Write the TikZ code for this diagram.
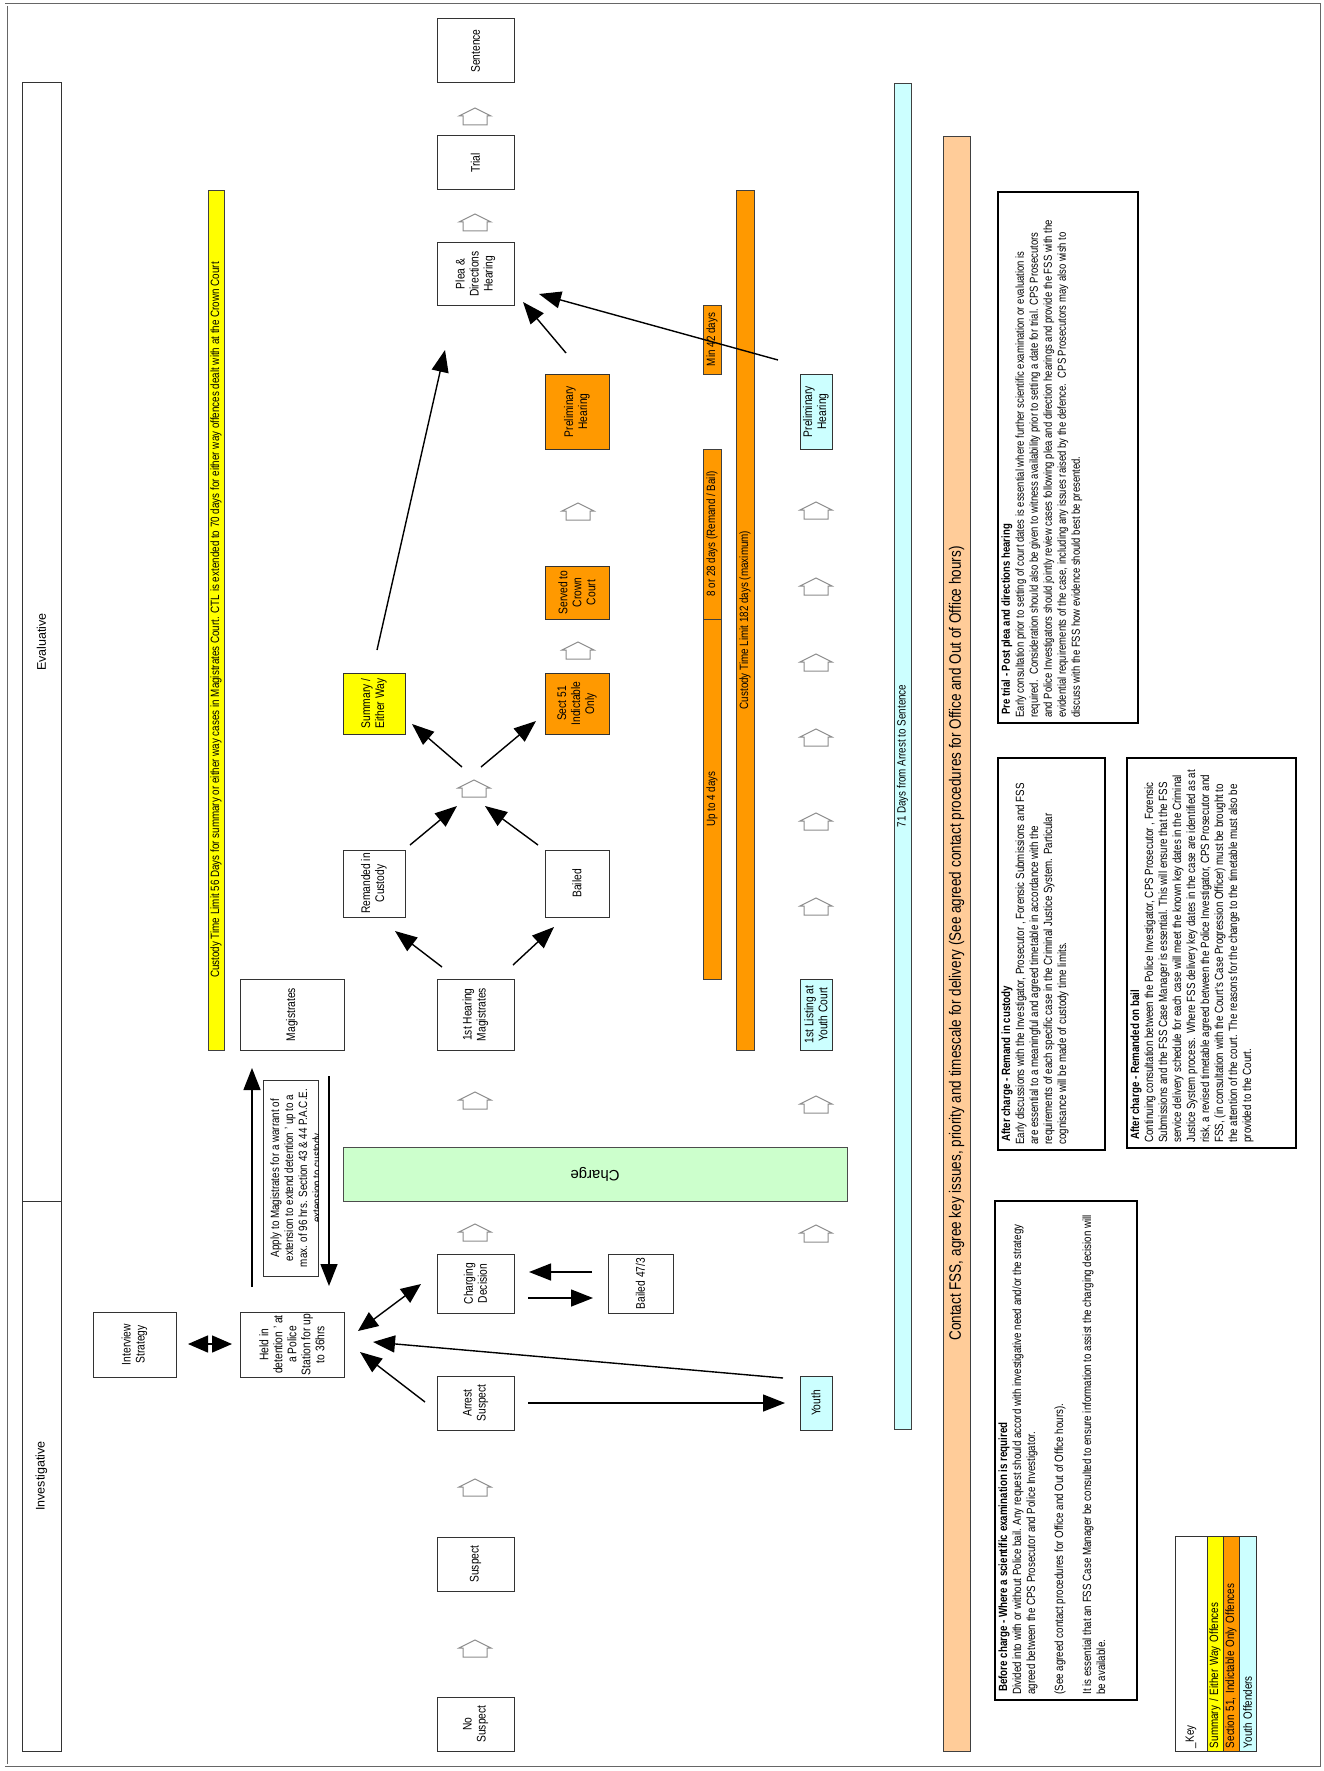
\documentclass[tikz,border=0pt]{standalone}
\usepackage{fontspec}
\setmainfont[FakeStretch=0.82]{Liberation Sans}
\newfontfamily\plainsans{Liberation Sans}
\usetikzlibrary{arrows.meta}
\definecolor{ctlyellow}{HTML}{FFFF00}
\definecolor{ctlorange}{HTML}{FF9900}
\definecolor{youthcyan}{HTML}{CCFFFF}
\definecolor{fsspeach}{HTML}{FFCC99}
\definecolor{chargegreen}{HTML}{CCFFCC}
\tikzset{
  stage/.style={draw=black!80, line width=1pt, rotate=90, align=center, inner sep=1pt, font=\fontsize{12.5}{14}\selectfont},
  bar/.style={draw=black!75, line width=0.8pt, rotate=90, inner sep=0pt, font=\fontsize{12}{12}\selectfont},
  notebox/.style={draw=black, line width=1.6pt, rotate=90},
  note/.style={rotate=90, anchor=north west, align=left, inner sep=0pt, font=\fontsize{11.9}{14}\selectfont},
  keystrip/.style={draw=black!80, line width=0.8pt, rotate=90, text width=209pt, inner xsep=3pt, inner ysep=0pt, align=left, minimum height=16pt, font=\fontsize{12}{12}\selectfont},
  flow/.style={line width=1.4pt, -{Triangle[length=22pt,width=17pt]}},
  twoway/.style={line width=1.4pt, {Triangle[length=20pt,width=17pt]}-{Triangle[length=20pt,width=17pt]}},
  house/.pic={\draw[black!45, line width=1pt] (-12,9) -- (-12,0) -- (-16,0) -- (0,-8) -- (16,0) -- (12,0) -- (12,9) -- cycle;}
}
\begin{document}
\begin{tikzpicture}[x=1pt,y=-1pt]
\useasboundingbox (0,0) rectangle (1324,1771);
\draw[black!60, line width=0.9pt, double=white, double distance=1.2pt] (6,5) rectangle (1319,1765);

% stage headings
\node[stage, minimum width=1118pt, minimum height=39pt, font=\plainsans\fontsize{12.5}{14}\selectfont] (evaluative) at (41.5,642) {Evaluative};
\node[stage, minimum width=550pt, minimum height=39pt, font=\plainsans\fontsize{12.5}{14}\selectfont] (investigative) at (41.5,1476) {Investigative};

% main line
\node[stage, minimum width=64pt, minimum height=77pt] (sentence) at (475.5,51) {Sentence};
\node[stage, minimum width=54pt, minimum height=77pt] (trial) at (475.5,163) {Trial};
\node[stage, minimum width=62pt, minimum height=77pt] (plea) at (475.5,274) {Plea \&\\Directions\\Hearing};
\node[stage, minimum width=71pt, minimum height=77pt] (firsthearing) at (475.5,1014.5) {1st Hearing\\Magistrates};
\node[stage, minimum width=59pt, minimum height=77pt] (charging) at (475.5,1283.5) {Charging\\Decision};
\node[stage, minimum width=54pt, minimum height=77pt] (arrest) at (475.5,1403) {Arrest\\Suspect};
\node[stage, minimum width=54pt, minimum height=77pt] (suspect) at (475.5,1564) {Suspect};
\node[stage, minimum width=54pt, minimum height=77pt] (nosuspect) at (475.5,1724) {No\\Suspect};

\node[stage, minimum width=71pt, minimum height=104pt] (magistrates) at (292,1014.5) {Magistrates};
\node[stage, minimum width=65pt, minimum height=104pt] (held) at (292,1344.5) {Held in\\detention ' at\\a Police\\Station for up\\to 36hrs};
\node[stage, minimum width=65pt, minimum height=83pt] (interview) at (134.5,1344.5) {Interview\\Strategy};
\node[stage, minimum width=196pt, minimum height=55pt] (apply) at (290.5,1178) {};
\begin{scope}
\clip (apply.north west) rectangle (apply.south east);
\node[rotate=90, align=center, inner sep=0pt, font=\fontsize{12}{14}\selectfont] (applytext) at (297,1178) {Apply to Magistrates for a warrant of\\extension to extend detention ' up to a\\max. of 96 hrs. Section 43 \& 44 P.A.C.E.\\extension to custody};
\end{scope}

\node[stage, minimum width=67pt, minimum height=62pt] (remanded) at (374,883.5) {Remanded in\\Custody};
\node[stage, minimum width=61pt, minimum height=62pt, fill=ctlyellow] (summary) at (374,703.5) {Summary /\\Either Way};
\node[stage, minimum width=67pt, minimum height=64pt] (bailed) at (577,883.5) {Bailed};
\node[stage, minimum width=61pt, minimum height=64pt, fill=ctlorange] (sect51) at (577,703.5) {Sect 51\\Indictable\\Only};
\node[stage, minimum width=53pt, minimum height=64pt, fill=ctlorange] (served) at (577,592.5) {Served to\\Crown\\Court};
\node[stage, minimum width=75pt, minimum height=64pt, fill=ctlorange] (prelimcrown) at (577,411.5) {Preliminary\\Hearing};
\node[stage, minimum width=59pt, minimum height=65pt] (bailedpolice) at (640.5,1283.5) {Bailed 47/3};

\node[stage, minimum width=75pt, minimum height=32pt, fill=youthcyan] (prelimyouth) at (816,411.5) {Preliminary\\Hearing};
\node[stage, minimum width=71pt, minimum height=32pt, fill=youthcyan] (youthlisting) at (816,1014.5) {1st Listing at\\Youth Court};
\node[stage, minimum width=54pt, minimum height=32pt, fill=youthcyan] (youth) at (816,1403) {Youth};

\node[draw=black!70, line width=1pt, fill=chargegreen, rotate=180, minimum width=504pt, minimum height=54pt, font=\plainsans\fontsize{15}{15}\selectfont] (charge) at (595,1174) {Charge};

% time limit bars
\node[bar, fill=ctlyellow, minimum width=860pt, minimum height=16pt] (ctlmags) at (216,620) {Custody Time Limit 56 Days for summary or either way cases in Magistrates Court. CTL is extended to 70 days for either way offences dealt with at the Crown Court};
\node[bar, fill=ctlorange, minimum width=69pt, minimum height=18pt] (minfortytwo) at (712,339.5) {Min 42 days};
\node[bar, fill=ctlorange, minimum width=170pt, minimum height=18pt] (remandbail) at (712,534) {8 or 28 days (Remand / Bail)};
\node[bar, fill=ctlorange, minimum width=360pt, minimum height=18pt] (uptofour) at (712,799) {Up to 4 days};
\node[bar, fill=ctlorange, minimum width=860pt, minimum height=18pt] (ctlcrown) at (745,620) {Custody Time Limit 182 days (maximum)};
\node[bar, fill=youthcyan, minimum width=1346pt, minimum height=17pt] (seventyone) at (902.5,756) {71 Days from Arrest to Sentence};
\node[bar, fill=fsspeach, minimum width=1615pt, minimum height=27pt, font=\fontsize{16.5}{16.5}\selectfont] (contact) at (956.5,943.5) {Contact FSS, agree key issues, priority and timescale for delivery (See agreed contact procedures for Office and Out of Office hours)};

% guidance notes
\node[notebox, minimum width=531pt, minimum height=140pt] (pretrial) at (1068,457.5) {};
\node[note, font=\fontsize{11.6}{14}\selectfont] (pretrialtext) at ([shift={(4,-6)}]pretrial.north west) {\textbf{\ Pre trial - Post plea and directions hearing}\\
Early consultation prior to setting of court dates is essential where further scientific examination or evaluation is\\
required.\ \ Consideration should also be given to witness availability prior to setting a date for trial. CPS Prosecutors\\
and Police Investigators should jointly review cases following plea and direction hearings and provide the FSS with the\\
evidential requirements of the case, including any issues raised by the defence.\ \ CPS Prosecutors may also wish to\\
discuss with the FSS how evidence should best be presented.};

\node[notebox, minimum width=392pt, minimum height=107pt] (remandcustody) at (1051.5,954) {};
\node[note] (remandcustodytext) at ([shift={(4,-6)}]remandcustody.north west) {\textbf{\ After charge - Remand in custody}\\
Early discussions with the Investigator, Prosecutor , Forensic Submissions and FSS\\
are essential to a meaningful and agreed timetable in accordance with the\\
requirements of each specific case in the Criminal Justice System. Particular\\
cognisance will be made of custody time limits.};

\node[notebox, minimum width=390pt, minimum height=169pt] (remandbailnote) at (1211.5,953) {};
\node[note] (remandbailtext) at ([shift={(4,-6)}]remandbailnote.north west) {\textbf{\ After charge - Remanded on bail}\\
Continuing consultation between the Police Investigator, CPS Prosecutor , Forensic\\
Submissions and the FSS Case Manager is essential. This will ensure that the FSS\\
service delivery schedule for each case will meet the known key dates in the Criminal\\
Justice System process. Where FSS delivery key dates in the case are identified as at\\
risk, a revised timetable agreed between the Police Investigator, CPS Prosecutor and\\
FSS, (in consultation with the Court's Case Progression Officer) must be brought to\\
the attention of the court. The reasons for the change to the timetable must also be\\
provided to the Court.};

\node[notebox, minimum width=499pt, minimum height=142pt] (beforecharge) at (1066,1450.5) {};
\node[note] (beforechargetext) at ([shift={(4,-6)}]beforecharge.north west) {\textbf{\ Before charge - Where a scientific examination is required}\\
Divided into with or without Police bail. Any request should accord with investigative need and/or the strategy\\
agreed between the CPS Prosecutor and Police Investigator.\\[14pt]
(See agreed contact procedures for Office and Out of Office hours).\\[14pt]
It is essential that an FSS Case Manager be consulted to ensure information to assist the charging decision will\\
be available.};

% key
\node[keystrip, minimum height=32pt] (keyhead) at (1191,1643.5) {\_Key};
\node[keystrip, fill=ctlyellow] (keysummary) at (1215,1643.5) {Summary / Either Way Offences};
\node[keystrip, fill=ctlorange] (keysect) at (1231,1643.5) {Section 51, Indictable Only Offences};
\node[keystrip, fill=youthcyan, minimum height=17pt] (keyyouth) at (1247.5,1643.5) {Youth Offenders};

% progression markers
\coordinate (junction) at (474,788);
\pic at (junction) {house};
\foreach \hy in {116,222,1100,1232,1487,1648}
  \pic at (475,\hy) {house};
\foreach \hy in {511,650}
  \pic at (578,\hy) {house};
\foreach \hy in {510,586,662,737,821,906,1104,1233}
  \pic at (816,\hy) {house};

% connectors
\draw[flow] ([shift={(3,-53.5)}]summary.center) -- ([shift={(-30.5,76)}]plea.center);
\draw[flow] ([shift={(-11,-58.5)}]prelimcrown.center) -- ([shift={(47.5,28)}]plea.center);
\draw[flow] ([shift={(-38,-51.5)}]prelimyouth.center) -- ([shift={(63.5,20)}]plea.center);
\draw[flow] ([shift={(-33.5,-47.5)}]firsthearing.center) -- ([shift={(21,47.5)}]remanded.center);
\draw[flow] ([shift={(37.5,-49.5)}]firsthearing.center) -- ([shift={(-23,43.5)}]bailed.center);
\draw[flow] ([shift={(36,-38.5)}]remanded.center) -- ([shift={(-17,18)}]junction);
\draw[flow] ([shift={(-39,-38.5)}]bailed.center) -- ([shift={(11,18)}]junction);
\draw[flow] ([shift={(-12,-21)}]junction) -- ([shift={(38,20.5)}]summary.center);
\draw[flow] ([shift={(7,-21)}]junction) -- ([shift={(-41,17.5)}]sect51.center);
\draw[flow] ([shift={(52.5,0)}]arrest.center) -- ([shift={(-31,0)}]youth.center);
\draw[flow] ([shift={(-33,-25)}]youth.center) -- ([shift={(81,-2.5)}]held.center);
\draw[flow] ([shift={(-50.5,-1)}]arrest.center) -- ([shift={(68,7.5)}]held.center);
\draw[twoway] ([shift={(66,-13.5)}]held.center) -- ([shift={(-54.5,0.5)}]charging.center);
\draw[flow] ([shift={(-48.5,-11.5)}]bailedpolice.center) -- ([shift={(53.5,-11.5)}]charging.center);
\draw[flow] ([shift={(52.5,14.5)}]charging.center) -- ([shift={(-47.5,14.5)}]bailedpolice.center);
\draw[twoway] ([shift={(53.5,-0.5)}]interview.center) -- ([shift={(-60,-0.5)}]held.center);
\draw[flow] ([shift={(-40,-57.5)}]held.center) -- ([shift={(-40,53.5)}]magistrates.center);
\draw[flow] ([shift={(37,61.5)}]magistrates.center) -- ([shift={(37,-58.5)}]held.center);
\end{tikzpicture}
\end{document}
